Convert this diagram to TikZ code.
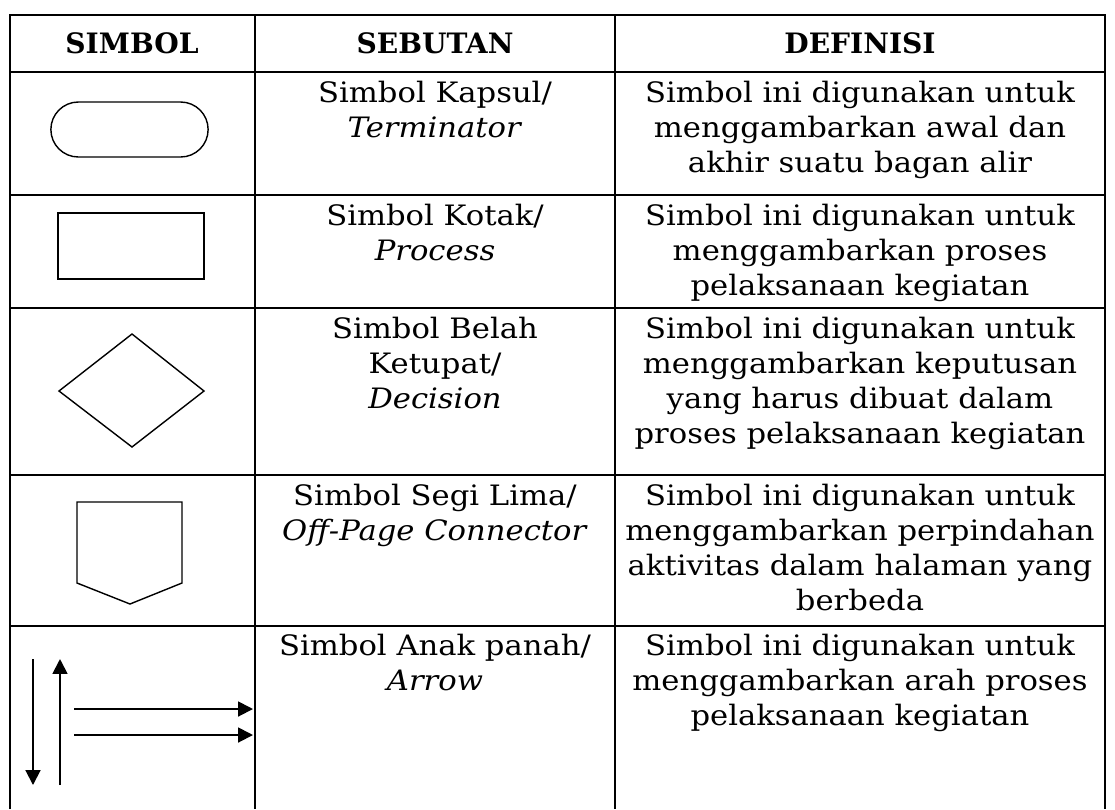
\documentclass[tikz,border=0pt]{standalone}
\usepackage{fontspec}
\setmainfont{DejaVu Serif}[FakeStretch=1.09]
\newfontfamily\headfont{DejaVu Serif Bold}
\usetikzlibrary{arrows.meta,positioning,calc,shapes.misc}

\tikzset{
  gridline/.style={line width=1.2pt},
  symbol/.style={line width=0.8pt},
  cell/.style={anchor=north,align=center,inner sep=0pt,font=\fontsize{16}{19.9}\selectfont},
  head/.style={anchor=center,inner sep=0pt,font=\fontsize{16}{19.9}\headfont},
  flow/.style={line width=1.1pt,-{Triangle[length=8.5pt,width=8.5pt]}}
}

\begin{document}
\begin{tikzpicture}[x=0.02cm,y=-0.02cm]
\useasboundingbox (0,0) rectangle (1115,809);

% Table grid
\draw[gridline] (10,809) -- (10,15) -- (1105,15) -- (1105,809);
\foreach \x in {255,615} \draw[gridline] (\x,15) -- (\x,809);
\foreach \y in {72,195,308,475,626} \draw[gridline] (10,\y) -- (1105,\y);

% Header
\node[head] (hsimbol) at (132,43) {SIMBOL};
\node[head] (hsebutan) at (435,43) {SEBUTAN};
\node[head] (hdefinisi) at (860,43) {DEFINISI};

% Terminator
\node[draw,symbol,rounded rectangle,minimum width=3.38cm,minimum height=1.1cm] (kapsul) at (129.5,129.5) {};
\node[cell] (sebut1) at (435,81) {Simbol Kapsul/\\\textit{Terminator}};
\node[cell] (def1) at (860,81) {Simbol ini digunakan untuk\\menggambarkan awal dan\\akhir suatu bagan alir};

% Process
\draw[symbol] (58,213) rectangle (204,279);
\node[cell] (sebut2) at (435,204) {Simbol Kotak/\\\textit{Process}};
\node[cell] (def2) at (860,204) {Simbol ini digunakan untuk\\menggambarkan proses\\pelaksanaan kegiatan};

% Decision
\draw[symbol] (59,391) -- (132,334) -- (204,391) -- (132,447) -- cycle;
\node[cell] (sebut3) at (435,317) {Simbol Belah\\Ketupat/\\\textit{Decision}};
\node[cell] (def3) at (860,317) {Simbol ini digunakan untuk\\menggambarkan keputusan\\yang harus dibuat dalam\\proses pelaksanaan kegiatan};

% Off-page connector
\draw[symbol] (77,502) -- (182,502) -- (182,583) -- (130,604) -- (77,583) -- cycle;
\node[cell] (sebut4) at (435,484) {Simbol Segi Lima/\\\textit{Off-Page Connector}};
\node[cell] (def4) at (860,484) {Simbol ini digunakan untuk\\menggambarkan perpindahan\\aktivitas dalam halaman yang\\berbeda};

% Arrow
\coordinate (turunA) at (33,659);
\coordinate (turunB) at (33,785);
\coordinate (naikA) at (60,785);
\coordinate (naikB) at (60,659);
\coordinate (kananA) at (74,709);
\coordinate (kananB) at (253,709);
\coordinate (kananC) at (74,735);
\coordinate (kananD) at (253,735);
\draw[flow] (turunA) -- (turunB);
\draw[flow] (naikA) -- (naikB);
\draw[flow] (kananA) -- (kananB);
\draw[flow] (kananC) -- (kananD);
\node[cell] (sebut5) at (435,634) {Simbol Anak panah/\\\textit{Arrow}};
\node[cell] (def5) at (860,634) {Simbol ini digunakan untuk\\menggambarkan arah proses\\pelaksanaan kegiatan};
\end{tikzpicture}
\end{document}
